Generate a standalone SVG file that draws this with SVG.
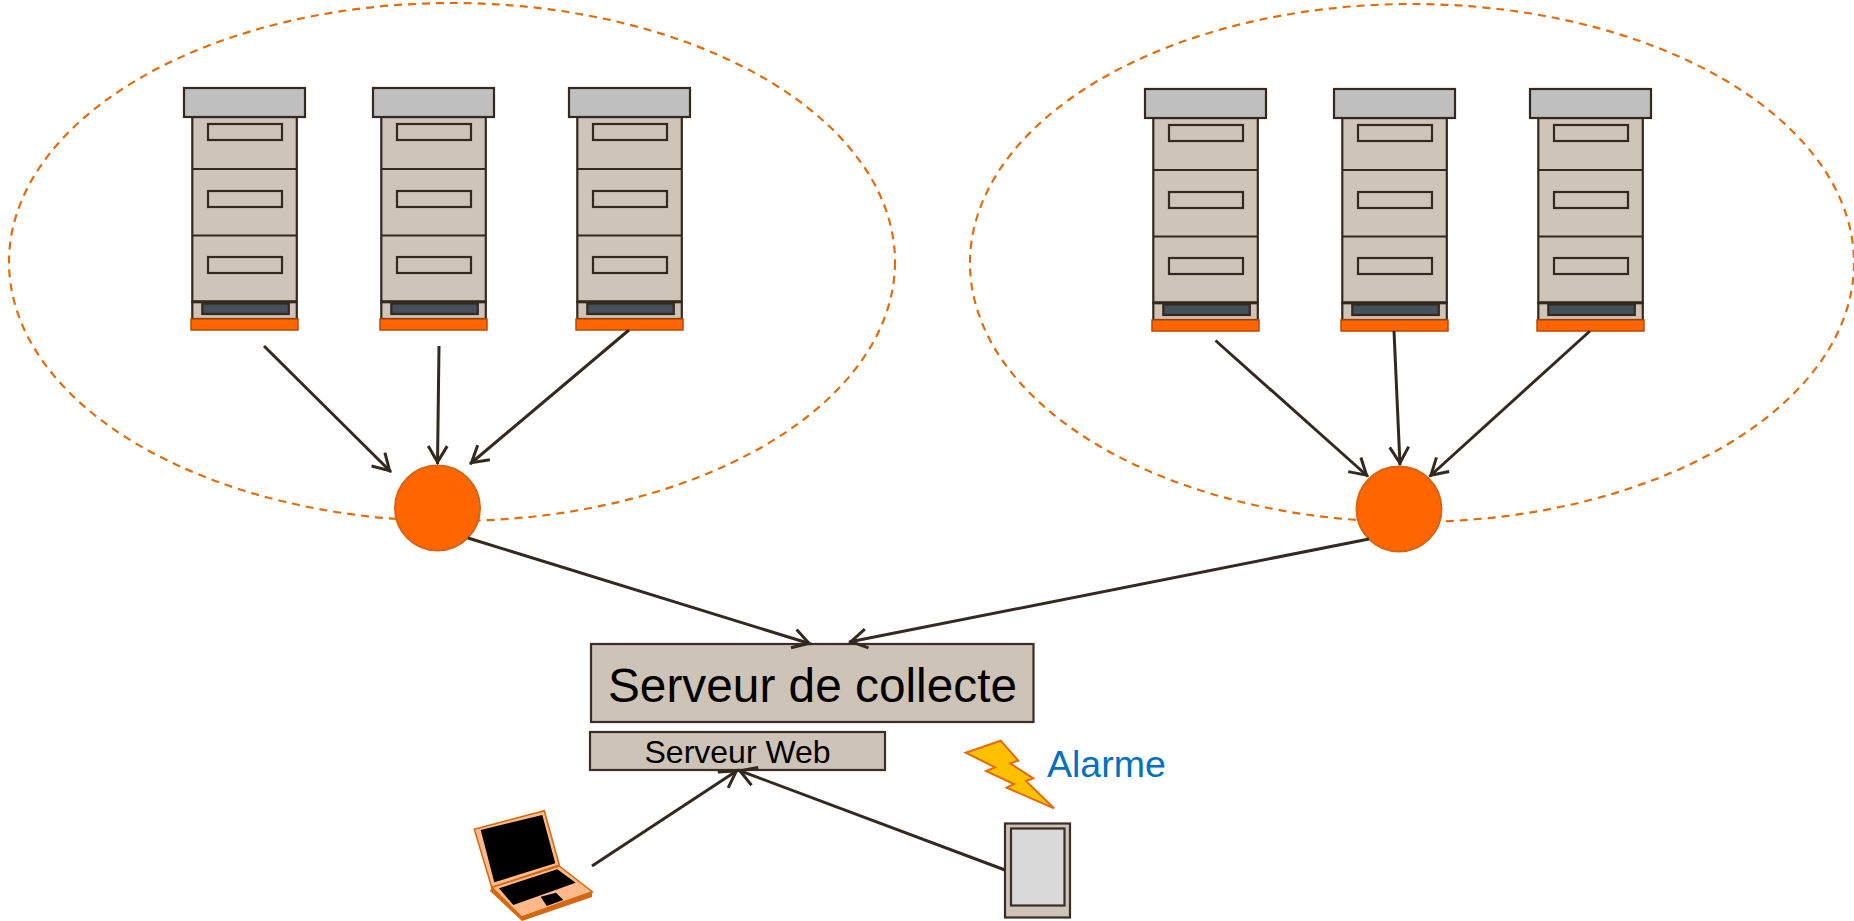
<svg xmlns="http://www.w3.org/2000/svg" width="1854" height="921" viewBox="0 0 1854 921">
<style>
.zone{fill:none;stroke:#E36C0A;stroke-width:2.2;stroke-dasharray:8 6}
.hub{fill:#FF6600;stroke:#D9640F;stroke-width:2}
.b{fill:#CFC4B8;stroke:#35291F;stroke-width:2.200}
.top{fill:#BFBFBF;stroke:#35291F;stroke-width:2.200}
.dark{fill:#44505A;stroke:#35291F;stroke-width:2.200}
.base{fill:#FF6600;stroke:#B84A00;stroke-width:1.500}
.box{fill:#CDC3B7;stroke:#3A2E25;stroke-width:2.200}
.conn line{stroke:#33291F;stroke-width:3;marker-end:url(#a)}
text{font-family:"Liberation Sans",Arial,sans-serif}
</style>
<defs>
<marker id="a" markerUnits="userSpaceOnUse" markerWidth="30" markerHeight="30" refX="22" refY="15" orient="auto" overflow="visible">
<path d="M4 5.500 L20 15 L4 24.500" fill="none" stroke="#33291F" stroke-width="3"/>
</marker>
<g id="srv">
<rect class="b" x="192.300" y="117" width="104.500" height="185"/>
<line class="b" x1="192" y1="169" x2="297" y2="169" stroke-width="3"/>
<line class="b" x1="192" y1="235.500" x2="297" y2="235.500"/>
<rect class="b" x="208" y="124" width="74" height="16"/>
<rect class="b" x="208" y="191" width="74" height="16"/>
<rect class="b" x="208" y="257" width="74" height="16"/>
<rect class="b" x="192.300" y="302" width="104.500" height="17"/>
<rect class="dark" x="202.300" y="303.500" width="86.500" height="10.500"/>
<line x1="192" y1="301.700" x2="297" y2="301.700" stroke="#35291F" stroke-width="3"/>
<rect class="base" x="191" y="319" width="107" height="11"/>
<rect class="top" x="184" y="88" width="121" height="29"/>
</g>
</defs>
<ellipse class="zone" cx="452" cy="262" rx="443" ry="259"/>
<ellipse class="zone" cx="1412" cy="263" rx="442" ry="259"/>
<g id="server-1"><use href="#srv"/></g>
<g id="server-2"><use href="#srv" x="189"/></g>
<g id="server-3"><use href="#srv" x="385"/></g>
<g id="server-4"><use href="#srv" x="961" y="1"/></g>
<g id="server-5"><use href="#srv" x="1150" y="1"/></g>
<g id="server-6"><use href="#srv" x="1346" y="1"/></g>
<g id="hub-1"><circle class="hub" cx="437.500" cy="508" r="42.500"/></g>
<g id="hub-2"><circle class="hub" cx="1399" cy="509" r="42.500"/></g>
<g id="collecte"><rect class="box" x="591" y="644" width="442.500" height="78"/>
<text x="608" y="702" font-size="48" fill="#000" textLength="409" lengthAdjust="spacingAndGlyphs">Serveur de collecte</text></g>
<g id="web"><rect class="box" x="590" y="732" width="295" height="38"/>
<text x="644.500" y="763" font-size="32" fill="#000">Serveur Web</text></g>
<g id="laptop">
<polygon points="491.700,887.300 559.300,866 592.300,891.700 592,897 522,921 490,891" fill="#D4670F"/>
<polygon points="491.700,887.300 559.300,866 592.300,891.700 521.700,917" fill="#FFB98A" stroke="#D4670F" stroke-width="1.500"/>
<polygon points="474.300,829.300 544.300,810.700 559.300,865 491.700,887.300" fill="#FFB98A" stroke="#D4670F" stroke-width="1.500"/>
<polygon points="480.700,830 542.300,815 555.300,863.300 494.300,882.300" fill="#000"/>
<polygon points="499,888.300 557.300,869.300 575.700,882.700 513.300,905" fill="#000"/>
<polygon points="540.700,896.700 556,892.700 563.300,900 546.700,906" fill="#000"/>
</g>
<g id="tablet"><rect class="box" x="1005" y="823.500" width="65" height="94"/>
<rect x="1011" y="828.500" width="53.500" height="77" fill="#D9D9D9" stroke="#3A2E25" stroke-width="2.200"/></g>
<g id="alarme">
<polygon points="965.700,752.700 1000.700,740.700 1018.300,760.700 1010,763.300 1033.300,778.300 1026,781 1054,808.300 1006.700,787.700 1014,784 986,771 995,767.300" fill="#FFC000" stroke="#E36C0A" stroke-width="2"/>
<text x="1047" y="777" font-size="37.500" fill="#0070C0">Alarme</text></g>
<g id="connectors" class="conn">
<line x1="264" y1="346" x2="391" y2="472"/>
<line x1="439" y1="346" x2="437.500" y2="464"/>
<line x1="629" y1="330" x2="470" y2="464"/>
<line x1="1215.500" y1="340.500" x2="1368" y2="476.500"/>
<line x1="1394" y1="331" x2="1400" y2="465"/>
<line x1="1590" y1="331" x2="1429.500" y2="476.500"/>
<line x1="468" y1="538" x2="811" y2="644"/>
<line x1="1369" y1="539" x2="849" y2="642"/>
<line x1="592" y1="866" x2="738" y2="770"/>
<line x1="1005" y1="870" x2="738" y2="770"/>
</g>
</svg>
